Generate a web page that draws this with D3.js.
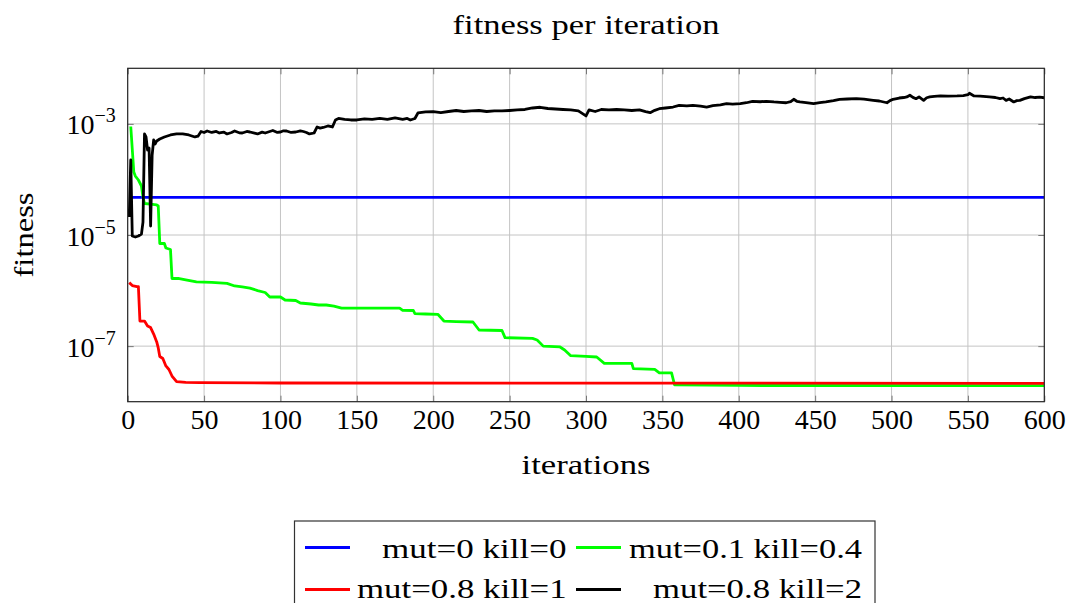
<!DOCTYPE html>
<html><head><meta charset="utf-8">
<script src="https://cdn.jsdelivr.net/npm/d3@7"></script>
<style>
body{margin:0;background:#fff}
text{font-family:"Liberation Serif","Times New Roman",serif;fill:#000}
</style>
</head><body>
<svg id="c" width="1073" height="603"></svg>
<script>
// ---------------- data ----------------
const xTicks = [0,50,100,150,200,250,300,350,400,450,500,550,600];
const yTicks = [1e-3,1e-5,1e-7];
const yTickExp = ["\u22123","\u22125","\u22127"];
const seriesNames = ["mut=0 kill=0","mut=0.1 kill=0.4","mut=0.8 kill=1","mut=0.8 kill=2"];
const seriesColors = ["#0000ff","#00ff00","#ff0000","#000000"];

const blueIter = [1,100,200,300,400,500,600];
const blueFit  = [4.77e-5,4.77e-5,4.77e-5,4.77e-5,4.77e-5,4.77e-5,4.77e-5];

const greenIter = [2,4,5,7,9,10,11,15,19,20,21,24,25,28,29,33,38,45,55,65,70,75,80,85,90,93,100,103,110,113,120,125,130,135,140,178,180,187,188,195,203,207,215,226,230,245,247,265,268,272,283,286,290,300,307,312,330,331,345,348,356,358,400,600];
const greenFit  = [8.97e-4,1.36e-4,1.15e-4,9.77e-5,7.62e-5,4.83e-5,3.69e-5,3.61e-5,3.47e-5,3.33e-5,7.03e-6,7.03e-6,5.83e-6,5.48e-6,1.65e-6,1.65e-6,1.55e-6,1.43e-6,1.40e-6,1.35e-6,1.21e-6,1.16e-6,1.11e-6,1.00e-6,9.23e-7,7.66e-7,7.66e-7,6.76e-7,6.62e-7,5.97e-7,5.73e-7,5.50e-7,5.50e-7,5.27e-7,4.85e-7,4.85e-7,4.42e-7,4.38e-7,3.84e-7,3.79e-7,3.74e-7,2.83e-7,2.77e-7,2.72e-7,1.95e-7,1.91e-7,1.42e-7,1.38e-7,1.29e-7,1.00e-7,9.66e-8,8.53e-8,6.73e-8,6.52e-8,6.38e-8,4.91e-8,4.88e-8,3.93e-8,3.83e-8,3.29e-8,3.29e-8,2.0e-8,1.96e-8,1.94e-8];

const redIter = [1,3,6,7,8,11,13,15,17,19,20,21,23,25,27,29,32,38,47,100,600];
const redFit  = [1.39e-6,1.23e-6,1.18e-6,1.18e-6,2.83e-7,2.83e-7,2.30e-7,2.16e-7,1.65e-7,1.19e-7,9.27e-8,6.52e-8,6.0e-8,4.40e-8,3.80e-8,2.90e-8,2.29e-8,2.23e-8,2.20e-8,2.17e-8,2.14e-8];

const blackIter = [1,2,3,5,7,9,10,11,12,13,14,15,16,17,18,19,21,24,28,32,36,40,44,46,48,50,52,55,58,60,63,65,68,70,73,75,78,80,83,85,88,90,93,95,98,100,102,104,107,110,113,115,117,119,122,124,126,128,131,134,136,138,142,146,150,155,160,165,170,175,180,183,185,188,190,195,200,205,210,215,220,225,230,235,240,245,250,255,260,265,270,275,280,285,290,295,298,300,302,306,310,315,320,325,330,335,339,342,345,348,352,357,361,366,370,375,379,383,388,392,396,401,405,409,414,418,423,427,431,434,436,438,440,444,449,453,457,462,466,471,477,482,488,492,497,499,501,505,508,510,512,514,516,518,521,523,525,528,532,537,543,547,550,551,554,558,564,568,571,573,575,577,580,582,584,587,591,594,597,600];
const blackFit  = [2.11e-5,2.24e-4,9.6e-6,9.2e-6,9.6e-6,1.04e-5,1.71e-5,6.58e-4,5.81e-4,3.39e-4,3.68e-4,1.45e-5,2.75e-4,5.13e-4,4.35e-4,4.92e-4,5.35e-4,5.81e-4,6.31e-4,6.58e-4,6.58e-4,6.31e-4,5.81e-4,6.0e-4,7.29e-4,7.0e-4,7.44e-4,7.0e-4,7.3e-4,6.85e-4,7.1e-4,6.58e-4,7.0e-4,7.44e-4,6.9e-4,6.85e-4,7.3e-4,7.14e-4,6.8e-4,6.58e-4,7.1e-4,6.85e-4,7.3e-4,7.6e-4,7.0e-4,7.14e-4,7.5e-4,7.44e-4,7.0e-4,7.14e-4,7.5e-4,7.29e-4,7.0e-4,6.58e-4,6.85e-4,8.79e-4,8.4e-4,8.61e-4,9.16e-4,8.79e-4,1.175e-3,1.25e-3,1.20e-3,1.175e-3,1.175e-3,1.225e-3,1.20e-3,1.25e-3,1.20e-3,1.276e-3,1.20e-3,1.25e-3,1.175e-3,1.25e-3,1.57e-3,1.64e-3,1.66e-3,1.60e-3,1.67e-3,1.74e-3,1.67e-3,1.71e-3,1.74e-3,1.67e-3,1.71e-3,1.71e-3,1.74e-3,1.78e-3,1.815e-3,1.93e-3,1.99e-3,1.89e-3,1.85e-3,1.815e-3,1.78e-3,1.71e-3,1.51e-3,1.39e-3,1.78e-3,1.67e-3,1.815e-3,1.78e-3,1.815e-3,1.78e-3,1.74e-3,1.78e-3,1.66e-3,1.59e-3,1.75e-3,1.875e-3,1.93e-3,2.01e-3,2.16e-3,2.10e-3,2.16e-3,2.08e-3,2.01e-3,2.12e-3,2.20e-3,2.31e-3,2.26e-3,2.31e-3,2.40e-3,2.55e-3,2.50e-3,2.55e-3,2.48e-3,2.44e-3,2.40e-3,2.52e-3,2.77e-3,2.55e-3,2.48e-3,2.42e-3,2.31e-3,2.40e-3,2.48e-3,2.62e-3,2.77e-3,2.80e-3,2.84e-3,2.78e-3,2.65e-3,2.58e-3,2.40e-3,2.62e-3,2.77e-3,2.92e-3,2.98e-3,3.05e-3,3.27e-3,3.0e-3,2.84e-3,3.05e-3,2.65e-3,2.95e-3,3.05e-3,3.12e-3,3.18e-3,3.15e-3,3.18e-3,3.22e-3,3.35e-3,3.55e-3,3.18e-3,3.15e-3,3.05e-3,2.98e-3,2.84e-3,2.92e-3,2.65e-3,2.80e-3,2.48e-3,2.62e-3,2.65e-3,2.85e-3,3.05e-3,2.98e-3,3.02e-3,2.95e-3];

const seriesIter = [blueIter, greenIter, redIter, blackIter];
const seriesFit  = [blueFit, greenFit, redFit, blackFit];

// ---------------- layout ----------------
const L = 127.7, T = 68.3, R = 1044.3, B = 401.7;
const svg = d3.select("#c");
const x = d3.scaleLinear().domain([0,600]).range([L,R]);
const y = d3.scaleLog().domain([1e-8,1e-2]).range([B,T]);

// grid
const g = svg.append("g");
g.selectAll(".vg").data(xTicks.slice(1,-1)).enter().append("line")
  .attr("x1",d=>x(d)).attr("x2",d=>x(d)).attr("y1",T).attr("y2",B)
  .attr("stroke","#c4c4c4").attr("stroke-width",1);
g.selectAll(".hg").data(yTicks).enter().append("line")
  .attr("x1",L).attr("x2",R).attr("y1",d=>y(d)).attr("y2",d=>y(d))
  .attr("stroke","#c4c4c4").attr("stroke-width",1);

// axes (ticks inward, both sides)
const tickLen = 6;
const xb = svg.append("g").attr("transform",`translate(0,${B})`)
  .call(d3.axisBottom(x).tickValues(xTicks).tickSizeInner(-tickLen).tickSizeOuter(0).tickPadding(10).tickFormat(d3.format("d")));
const xt = svg.append("g").attr("transform",`translate(0,${T})`)
  .call(d3.axisTop(x).tickValues(xTicks).tickSizeInner(-tickLen).tickSizeOuter(0).tickFormat(""));
const yl = svg.append("g").attr("transform",`translate(${L},0)`)
  .call(d3.axisLeft(y).tickValues(yTicks).tickSizeInner(-tickLen).tickSizeOuter(0).tickFormat(""));
const yr = svg.append("g").attr("transform",`translate(${R},0)`)
  .call(d3.axisRight(y).tickValues(yTicks).tickSizeInner(-tickLen).tickSizeOuter(0).tickFormat(""));
[xb,xt,yl,yr].forEach(a=>{
  a.select(".domain").remove();
  a.selectAll(".tick line").attr("stroke","#777").attr("stroke-width",1);
});
xb.selectAll(".tick text").attr("font-size",28).attr("font-family","Liberation Serif").attr("fill","#000").attr("dy","0.62em");

// y tick labels 10^-n
yTicks.forEach((t,i)=>{
  const tx = svg.append("text").attr("x",L-12).attr("y",y(t)+10.5)
    .attr("text-anchor","end").attr("font-size",28);
  tx.append("tspan").text("10");
  tx.append("tspan").attr("dy",-12).attr("font-size",20).text(yTickExp[i]);
});

// lines
svg.append("clipPath").attr("id","cl").append("rect")
  .attr("x",L).attr("y",T).attr("width",R-L).attr("height",B-T);
const line = d3.line().x(d=>x(d[0])).y(d=>y(d[1]));
seriesIter.forEach((it,k)=>{
  const pts = it.map((v,i)=>[v, seriesFit[k][i]]);
  svg.append("path").attr("d",line(pts)).attr("fill","none")
    .attr("stroke",seriesColors[k]).attr("stroke-width",2.8)
    .attr("stroke-linejoin","round").attr("clip-path","url(#cl)");
});

// frame
svg.append("rect").attr("x",L).attr("y",T).attr("width",R-L).attr("height",B-T)
  .attr("fill","none").attr("stroke","#222").attr("stroke-width",1.2);

// titles
svg.append("text").attr("x",(L+R)/2).attr("y",34).attr("text-anchor","middle")
  .attr("font-size",28).attr("textLength",267).attr("lengthAdjust","spacingAndGlyphs")
  .text("fitness per iteration");
svg.append("text").attr("x",(L+R)/2).attr("y",474).attr("text-anchor","middle")
  .attr("font-size",28).attr("textLength",129).attr("lengthAdjust","spacingAndGlyphs")
  .text("iterations");
svg.append("text").attr("transform",`translate(33,${(T+B)/2}) rotate(-90)`)
  .attr("text-anchor","middle").attr("font-size",28).attr("textLength",85)
  .attr("lengthAdjust","spacingAndGlyphs").text("fitness");

// legend
svg.append("rect").attr("x",294.5).attr("y",521).attr("width",580.5).attr("height",100)
  .attr("fill","#fff").attr("stroke","#333").attr("stroke-width",1.2);
const legPos = [
  {lx:305, tx:566.6, ly:547.5, ty:557.5, w:184.6},
  {lx:576, tx:862,   ly:547.5, ty:557.5, w:233},
  {lx:305, tx:566.6, ly:589.5, ty:597.5, w:209.6},
  {lx:576, tx:862,   ly:589.5, ty:597.5, w:209}
];
seriesNames.forEach((n,k)=>{
  const p = legPos[k];
  svg.append("line").attr("x1",p.lx).attr("x2",p.lx+45).attr("y1",p.ly).attr("y2",p.ly)
    .attr("stroke",seriesColors[k]).attr("stroke-width",2.8);
  svg.append("text").attr("x",p.tx).attr("y",p.ty).attr("text-anchor","end")
    .attr("font-size",28).attr("textLength",p.w).attr("lengthAdjust","spacingAndGlyphs").text(n);
});
</script>
</body></html>
